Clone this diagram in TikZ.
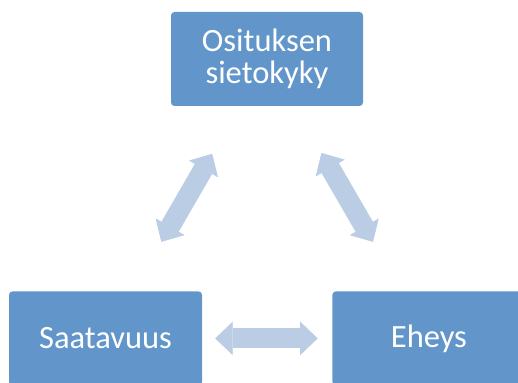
\documentclass[tikz,border=0pt]{standalone}
\usepackage{fontspec}
\setmainfont{Carlito}
\usepackage{xcolor}
\usetikzlibrary{positioning,arrows.meta}

\definecolor{boxblue}{RGB}{98,150,202}
\definecolor{linkblue}{RGB}{187,205,228}

\begin{document}
\begin{tikzpicture}[x=1pt, y=1pt,
  every node/.style={fill=boxblue, rounded corners=3.5pt, align=center, text=white, font=\fontsize{32.5}{31.5}\selectfont, inner sep=0pt},
  link/.style={draw=linkblue, line width=20pt,
    {Triangle[length=17.5pt,width=33.4pt,line width=0.8pt]}-{Triangle[length=17.5pt,width=33.4pt,line width=0.8pt]}}]
\useasboundingbox (0,0) rectangle (518,382);
\node (osit) [minimum width=192pt, minimum height=94pt] at (267,323) {Osituksen\\sietokyky};
\node (saat) [minimum width=193pt, minimum height=94pt, below=185pt of osit, xshift=-161.5pt] {Saatavuus};
\node (eheys) [minimum width=193pt, minimum height=94pt, right=130pt of saat] {Eheys};
\draw[link, shorten <=57pt, shorten >=55pt] (saat) -- (osit);
\draw[link, shorten <=54pt, shorten >=57pt] (osit) -- (eheys);
\draw[link, shorten <=13pt, shorten >=14.5pt] (saat) -- (eheys);
\end{tikzpicture}
\end{document}
